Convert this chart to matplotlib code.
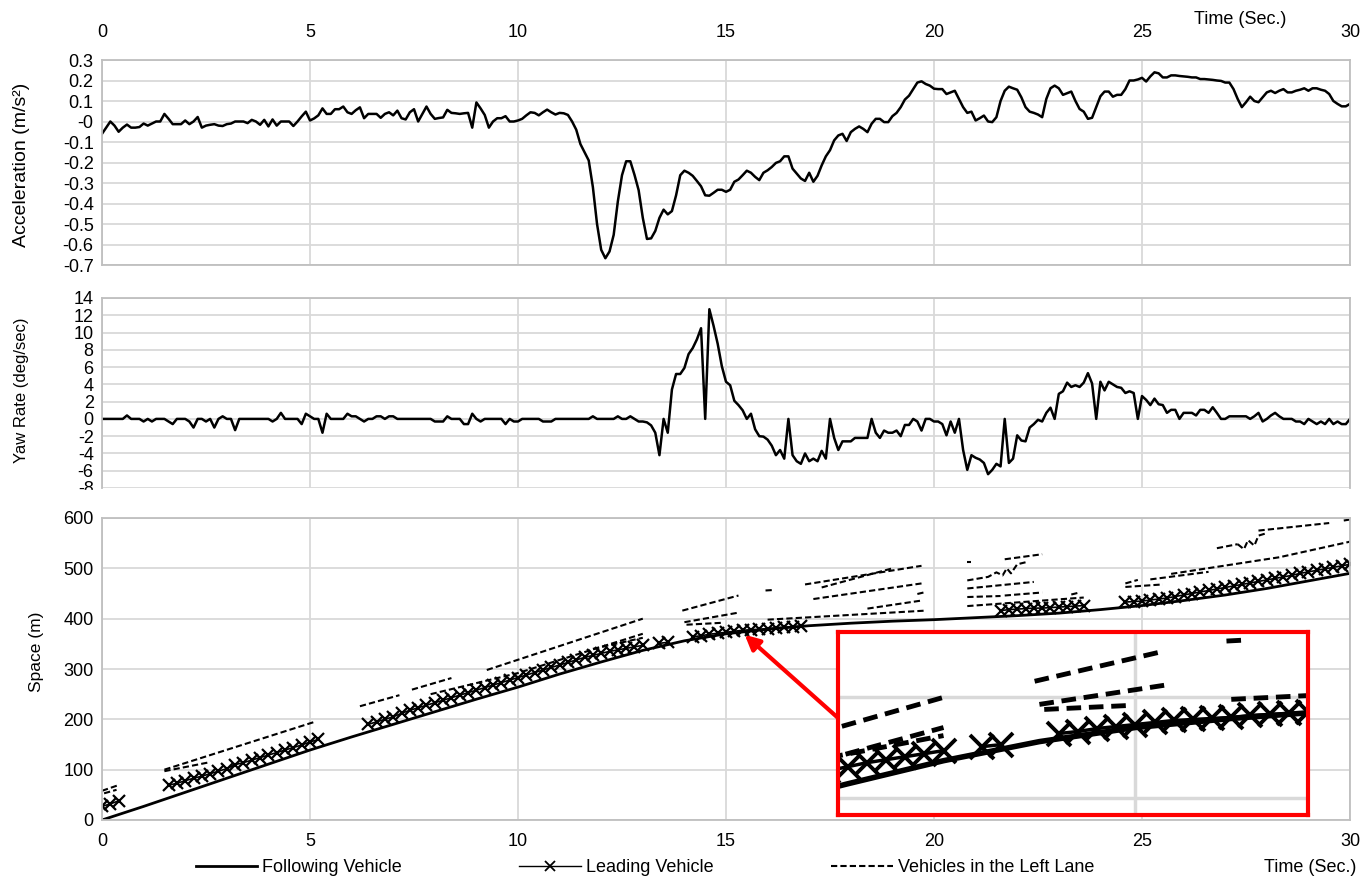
import numpy as np
import matplotlib
matplotlib.use("Agg")
import matplotlib.pyplot as plt
from matplotlib.patches import Rectangle
from matplotlib.lines import Line2D

plt.rcParams["axes.unicode_minus"] = False
NARROW = ["Liberation Sans Narrow", "Liberation Sans", "DejaVu Sans"]
REG = ["Liberation Sans", "DejaVu Sans"]
plt.rcParams["font.family"] = NARROW

# ---- acceleration (m/s2), every 0.1 s, one row per second ----
acc = [
    -0.06, -0.03, 0.0, -0.02, -0.05, -0.03, -0.015, -0.03, -0.03, -0.027,
    -0.01, -0.02, -0.01, 0.0, 0.0, 0.037, 0.013, -0.013, -0.013, -0.013,
    0.005, -0.013, 0.0, 0.022, -0.03, -0.02, -0.016, -0.013, -0.02, -0.022,
    -0.013, -0.01, 0.0, 0.0, 0.0, -0.008, 0.008, 0.0, -0.016, 0.008,
    -0.024, 0.01, -0.02, 0.0, 0.0, 0.0, -0.022, 0.0, 0.025, 0.048,
    0.005, 0.015, 0.03, 0.064, 0.037, 0.037, 0.06, 0.06, 0.073, 0.045,
    0.037, 0.055, 0.069, 0.016, 0.037, 0.037, 0.037, 0.018, 0.037, 0.045,
    0.03, 0.053, 0.016, 0.01, 0.045, 0.06, 0.0, 0.037, 0.073, 0.037,
    0.013, 0.017, 0.02, 0.057, 0.042, 0.04, 0.037, 0.04, 0.042, -0.03,
    0.093, 0.064, 0.032, -0.03, 0.0, 0.016, 0.016, 0.026, 0.0, 0.0,
    0.005, 0.013, 0.03, 0.045, 0.042, 0.03, 0.045, 0.058, 0.045, 0.034,
    0.042, 0.04, 0.032, 0.0, -0.04, -0.11, -0.15, -0.19, -0.32, -0.5,
    -0.626, -0.667, -0.634, -0.553, -0.39, -0.262, -0.194, -0.194, -0.26, -0.335,
    -0.47, -0.573, -0.57, -0.534, -0.47, -0.43, -0.453, -0.437, -0.36, -0.262,
    -0.24, -0.25, -0.265, -0.29, -0.316, -0.36, -0.362, -0.348, -0.333, -0.333,
    -0.343, -0.333, -0.294, -0.283, -0.262, -0.24, -0.25, -0.27, -0.286, -0.25,
    -0.238, -0.222, -0.202, -0.194, -0.17, -0.17, -0.23, -0.254, -0.278, -0.29,
    -0.25, -0.294, -0.265, -0.214, -0.17, -0.14, -0.092, -0.068, -0.06, -0.095,
    -0.052, -0.036, -0.024, -0.036, -0.052, -0.011, 0.013, 0.013, -0.003, -0.003,
    0.026, 0.042, 0.07, 0.107, 0.126, 0.158, 0.19, 0.196, 0.183, 0.175,
    0.16, 0.158, 0.158, 0.134, 0.142, 0.15, 0.11, 0.07, 0.042, 0.048,
    0.005, 0.016, 0.029, 0.0, -0.003, 0.021, 0.1, 0.15, 0.17, 0.162,
    0.155, 0.118, 0.07, 0.048, 0.042, 0.034, 0.021, 0.11, 0.162, 0.175,
    0.162, 0.13, 0.138, 0.146, 0.1, 0.061, 0.048, 0.013, 0.018, 0.07,
    0.123, 0.146, 0.146, 0.121, 0.13, 0.13, 0.158, 0.2, 0.2, 0.205,
    0.213, 0.195, 0.22, 0.24, 0.235, 0.215, 0.215, 0.225, 0.225, 0.222,
    0.22, 0.218, 0.215, 0.215, 0.207, 0.207, 0.205, 0.203, 0.2, 0.198,
    0.19, 0.19, 0.158, 0.11, 0.07, 0.094, 0.121, 0.1, 0.094, 0.118,
    0.142, 0.15, 0.139, 0.15, 0.158, 0.142, 0.142, 0.15, 0.155, 0.162,
    0.15, 0.162, 0.162, 0.155, 0.15, 0.134, 0.1, 0.086, 0.074, 0.074,
    0.086,
]

# ---- yaw rate (deg/sec), every 0.1 s ----
yaw = [
    0, 0, 0, 0, 0, 0, 0.4, 0, 0, 0,
    -0.3, 0, -0.3, 0, 0, 0, -0.3, -0.6, 0, 0,
    0, -0.3, -1.0, 0, 0, -0.3, 0, -1.0, 0, 0.3,
    0, 0, -1.3, 0, 0, 0, 0, 0, 0, 0,
    0, -0.3, 0, 0.7, 0, 0, 0, 0, -0.6, 0.6,
    0.3, 0, 0, -1.6, 0.6, 0, 0, 0, 0, 0.6,
    0.3, 0.3, 0, -0.3, 0, 0, 0.3, 0.3, 0, 0.3,
    0.3, 0, 0, 0, 0, 0, 0, 0, 0, 0,
    -0.3, -0.3, -0.3, 0.3, 0, 0, 0, -0.6, -0.6, 0.6,
    0, -0.3, 0, 0, 0, 0, 0, -0.6, 0, -0.3,
    -0.3, 0, 0, 0, 0, 0, -0.3, -0.3, -0.3, 0,
    0, 0, 0, 0, 0, 0, 0, 0, 0.3, 0,
    0, 0, 0, 0, 0.3, 0, 0, 0.3, 0, -0.3,
    -0.3, -0.4, -0.75, -1.6, -4.2, 0, -1.6, 3.4, 5.2, 5.2,
    5.9, 7.5, 8.2, 9.2, 10.5, 0, 12.7, 10.8, 8.7, 6.1,
    4.3, 3.9, 2.1, 1.6, 1.0, 0, 0.6, -1.2, -2.0, -2.05,
    -2.4, -3.1, -4.2, -3.6, -4.6, 0, -4.2, -4.9, -5.2, -4.0,
    -4.9, -4.6, -4.9, -3.7, -4.6, 0, -2.2, -3.6, -2.6, -2.6,
    -2.6, -2.2, -2.2, -2.2, -2.2, 0, -1.6, -2.2, -1.35, -1.6,
    -1.6, -1.35, -2.0, -0.7, -0.7, 0, -0.3, -1.35, 0, 0,
    -0.3, -0.3, -0.6, -1.9, -0.3, -1.6, 0, -3.6, -5.9, -4.2,
    -4.5, -4.7, -5.1, -6.4, -5.9, -5.2, -5.5, 0, -5.1, -4.6,
    -1.9, -2.5, -2.6, -1.0, -0.6, -0.1, -0.3, 0.7, 1.3, 0,
    2.9, 3.2, 4.2, 3.7, 3.9, 3.7, 4.2, 5.3, 4.1, 0,
    4.3, 3.3, 4.3, 4.0, 3.7, 3.6, 3.0, 3.2, 3.0, 0,
    2.65, 2.2, 1.6, 2.35, 1.7, 1.6, 0.7, 1.05, 1.05, 0,
    0.7, 0.7, 0.7, 0.4, 1.05, 1.05, 0.7, 1.35, 0.7, 0,
    0, 0.3, 0.3, 0.3, 0.3, 0.3, 0, 0.3, 0.7, -0.3,
    0, 0.4, 0.7, 0.3, 0, 0, 0, -0.3, -0.3, -0.6,
    0, -0.3, -0.6, -0.3, -0.6, 0, -0.6, -0.3, -0.6, -0.6,
    0,
]

# ---- following vehicle position (m), every 1 s ----
follow_t = list(range(31))
follow_s = [0, 27, 55, 83, 111, 139, 165, 190, 215, 240, 264, 290, 314, 337,
            356, 370, 379, 386, 391, 395, 398, 402, 406, 411, 418, 426, 436,
            447, 460, 475, 490]

# ---- leading vehicle position (m), 0.2 s samples, in segments ----
lead_start = [0.0, 1.6, 6.4, 13.4, 14.2, 21.6, 24.6]
lead_vals = [
    [27, 32, 38],
    [69, 73, 78, 83, 87, 92, 97, 102, 110, 114, 119, 124, 129, 134, 139, 144,
     149, 155, 160],
    [190, 195, 200, 205, 212, 218, 223, 228, 233, 238, 243, 248, 253, 258, 263,
     268, 273, 278, 283, 288, 293, 298, 303, 308, 313, 318, 323, 327, 331, 335,
     338, 341, 344, 347],
    [351, 353],
    [364, 366, 369, 371, 373, 375, 377, 378, 379, 380, 382, 383, 384, 385],
    [416, 418, 419, 420, 421, 421, 422, 423, 424, 425, 426],
    [433, 434, 435, 437, 439, 441, 444, 447, 450, 453, 456, 459, 462, 465, 468,
     471, 474, 477, 480, 483, 486, 490, 493, 496, 499, 502, 505, 508],
]

# ---- vehicles in the left lane: (times, positions) per observed track ----
left_t = [
    [0.0, 0.42], [0.05, 0.35], [1.5, 5.15], [1.5, 2.6], [6.2, 7.15],
    [7.45, 8.4], [9.25, 13.0], [7.9, 10.0, 13.0], [11.8, 13.0],
    [13.95, 15.3], [14.0, 15.3], [14.05, 14.95], [15.95, 16.15],
    [16.9, 19.7], [17.3, 19.0], [17.1, 19.7], [18.4, 19.7], [19.6, 19.75],
    [16.0, 19.8], [20.8, 20.9],
    [20.8, 21.3, 21.5, 21.65, 21.75, 21.85, 22.0, 22.2],
    [21.7, 22.6], [20.8, 22.4], [20.8, 21.6], [21.7, 22.6], [20.8, 23.6],
    [23.3, 23.5], [24.6, 24.9], [24.6, 25.5], [25.7, 28.3, 30.0],
    [25.2, 26.6], [26.8, 27.3],
    [27.3, 27.45, 27.55, 27.7, 27.8, 28.0], [27.8, 29.5], [29.85, 30.0],
]
left_s = [
    [58, 70], [53, 60], [100, 196], [97, 115], [226, 248],
    [259, 282], [298, 400], [250, 292, 370], [340, 362],
    [416, 446], [393, 412], [388, 392], [456, 457],
    [468, 505], [462, 500], [439, 470], [420, 436], [449, 452],
    [398, 416], [513, 513],
    [476, 483, 492, 486, 500, 490, 508, 512],
    [518, 528], [460, 473], [443, 445], [446, 452], [425, 442],
    [448, 452], [470, 477], [463, 468], [489, 522, 553],
    [478, 493], [540, 548],
    [548, 538, 556, 545, 565, 570], [575, 590], [595, 597],
]

GRID = "#d9d9d9"
SPINE = "#bfbfbf"
W, H = 1367, 882
fig = plt.figure(figsize=(W / 100, H / 100), dpi=100)


def frac(x0, y_top, x1, y_bot):
    return [x0 / W, 1 - y_bot / H, (x1 - x0) / W, (y_bot - y_top) / H]


def style(ax):
    ax.set_xlim(0, 30)
    ax.set_xticks(range(0, 31, 5))
    ax.grid(True, color=GRID, lw=1.3)
    ax.set_axisbelow(True)
    for sp in ax.spines.values():
        sp.set_color(SPINE)
        sp.set_linewidth(1.3)
    ax.tick_params(length=0, labelsize=13)


t_acc = np.arange(len(acc)) * 0.1
t_yaw = np.arange(len(yaw)) * 0.1

# top: acceleration
ax1 = fig.add_axes(frac(102, 60, 1350, 265))
style(ax1)
ax1.plot(t_acc, acc, color="black", lw=1.8)
ax1.set_ylim(-0.7, 0.3)
yt = np.round(np.arange(-0.7, 0.31, 0.1), 1)
ax1.set_yticks(yt)
ax1.set_yticklabels([f"{v:g}" for v in yt])
ax1.xaxis.tick_top()
ax1.tick_params(axis="x", pad=14)
ax1.tick_params(axis="y", pad=6)

# middle: yaw rate
ax2 = fig.add_axes(frac(102, 298, 1350, 488))
style(ax2)
ax2.plot(t_yaw, yaw, color="black", lw=1.8)
ax2.set_ylim(-8, 14)
ax2.set_yticks(range(-8, 15, 2))
ax2.set_xticklabels([])
ax2.spines["bottom"].set_visible(False)
ax2.tick_params(axis="y", pad=6)

# hide the lower half of the clipped "-8" label
fig.patches.append(Rectangle((0, 1 - 509 / H), 100 / W, 19 / H,
                             transform=fig.transFigure, color="white",
                             zorder=10))

# bottom: space-time
ax3 = fig.add_axes(frac(102, 518, 1350, 820))
style(ax3)
ax3.set_ylim(0, 600)
ax3.set_yticks(range(0, 601, 100))
ax3.tick_params(axis="x", pad=9)
ax3.tick_params(axis="y", pad=6)


def draw_space(ax, lw_f, lw_l, ms, mew, lw_d, dash):
    for tt, ss in zip(left_t, left_s):
        ax.plot(tt, ss, color="black", lw=lw_d, linestyle=(0, dash))
    for t0, vals in zip(lead_start, lead_vals):
        tt = t0 + 0.2 * np.arange(len(vals))
        ax.plot(tt, vals, color="black", lw=lw_l, marker="x", ms=ms, mew=mew)
    ax.plot(follow_t, follow_s, color="black", lw=lw_f)


draw_space(ax3, 2.0, 1.2, 9, 1.6, 1.5, (3, 1.5))

ax3.annotate("", xy=(15.45, 368), xytext=(17.69, 203),
             arrowprops=dict(arrowstyle="-|>", color="red", lw=3,
                             mutation_scale=22, shrinkA=0, shrinkB=0))

# inset magnification
axi = fig.add_axes(frac(838, 632, 1308, 815))
draw_space(axi, 4.0, 2.5, 17, 2.8, 3.5, (3, 1.6))
axi.set_xlim(11.9, 16.8)
axi.set_ylim(283, 465)
axi.set_xticks([15])
axi.set_yticks([300, 400])
axi.grid(True, color=GRID, lw=2.5)
axi.set_axisbelow(True)
axi.tick_params(length=0, labelbottom=False, labelleft=False)
for sp in axi.spines.values():
    sp.set_color("#ff0000")
    sp.set_linewidth(3)

# axis titles
fig.text(22 / W, 1 - 165 / H, "Acceleration (m/s²)", rotation=90,
         ha="center", va="center", fontsize=14, family=REG)
fig.text(22 / W, 1 - 390 / H, "Yaw Rate (deg/sec)", rotation=90,
         ha="center", va="center", fontsize=12, family=REG)
fig.text(36 / W, 1 - 652 / H, "Space (m)", rotation=90,
         ha="center", va="center", fontsize=12.5, family=REG)
fig.text(1240 / W, 1 - 19 / H, "Time (Sec.)", ha="center", va="center",
         fontsize=13)
fig.text(1310 / W, 1 - 868 / H, "Time (Sec.)", ha="center", va="center",
         fontsize=13)

handles = [
    Line2D([], [], color="black", lw=2.0),
    Line2D([], [], color="black", lw=1.0, marker="x", ms=7, mew=1.3),
    Line2D([], [], color="black", lw=1.5, linestyle=(0, (3, 1.5))),
]
labels = ["Following Vehicle", "Leading Vehicle", "Vehicles in the Left Lane"]
fig.legend(handles, labels, loc="center", bbox_to_anchor=(645 / W, 1 - 868 / H),
           ncol=3, frameon=False, fontsize=13, handlelength=3.4,
           handletextpad=0.3, columnspacing=6.5)

fig.savefig("out.png", dpi=100, facecolor="white")
